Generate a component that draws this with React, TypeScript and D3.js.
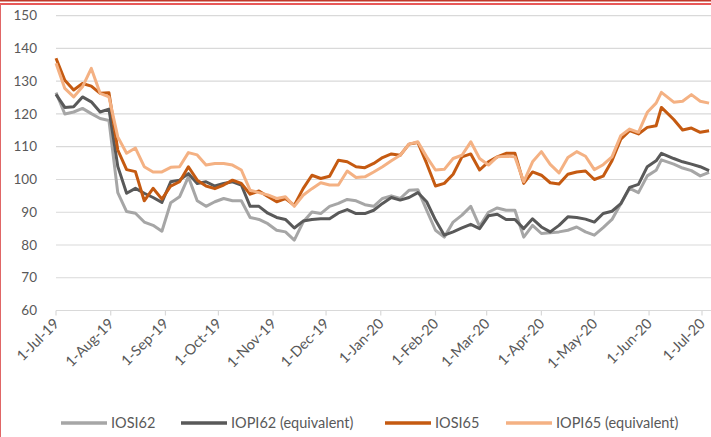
import React, {FC, useEffect, useRef} from 'react';
import * as d3 from 'd3';

// day offsets from 1-Jul-19
const dayOffsets = [
  0, 5, 10, 15, 20, 25, 30, 35, 40, 45, 50, 55, 60, 65, 70, 75, 80, 85, 90, 95,
  100, 105, 110, 115, 120, 125, 130, 135, 140, 145, 150, 155, 160, 165, 170,
  175, 180, 185, 190, 195, 200, 205, 210, 215, 220, 225, 230, 235, 240, 245,
  250, 255, 260, 265, 270, 275, 280, 285, 290, 295, 300, 305, 310, 315, 320,
  325, 330, 335, 340, 343, 350, 355, 360, 365, 370,
];

const iosi62 = [
  126.5, 120, 120.6, 121.7, 120.1, 118.6, 118, 96, 90.2, 89.7, 87, 86, 84.2,
  92.9, 94.7, 100.8, 93.5, 91.8, 93.2, 94.2, 93.5, 93.5, 88.4, 87.8, 86.5, 84.5,
  84, 81.5, 87, 90.1, 89.6, 91.8, 92.7, 93.9, 93.5, 92.3, 91.8, 94.2, 95, 94.2,
  96.7, 96.9, 90.6, 84.5, 82.4, 87, 89.1, 91.8, 85.7, 90, 91.3, 90.6, 90.6,
  82.4, 86, 83.5, 83.7, 84, 84.5, 85.5, 84, 83, 85.3, 87.8, 92.6, 97.3, 96,
  101.1, 102.8, 106, 104.7, 103.5, 102.7, 101.1, 102.2,
];

const iopi62 = [
  126, 122, 122.2, 125.2, 123.7, 120.6, 121.5, 104, 95.8, 97.3, 95.8, 94.5, 93,
  99.3, 99.8, 101.8, 98.8, 99.3, 98, 98.8, 99.3, 98.3, 91.8, 91.8, 89.7, 88.4,
  87.8, 85.2, 87.3, 87.8, 88, 88, 89.8, 90.8, 89.6, 89.6, 90.6, 92.7, 94.5,
  93.7, 94.5, 96, 93.2, 87.6, 83, 84, 85.2, 86.3, 85, 88.9, 89.4, 87.8, 87.8,
  85, 88, 85.5, 84, 86, 88.6, 88.4, 87.9, 87, 89.6, 90.3, 92.6, 97.6, 98.5,
  103.9, 105.7, 108, 106.4, 105.4, 104.7, 103.9, 102.7,
];

const iosi65 = [
  137, 130.3, 127.3, 129.3, 128.5, 126.3, 126.5, 109, 103, 102.4, 93.5, 97.3,
  94, 98, 99.3, 103.9, 99.8, 98, 97.2, 98.3, 99.8, 98.8, 95.5, 96.5, 94.8, 93.2,
  94.2, 92.1, 97.2, 101.3, 100.3, 101, 105.9, 105.4, 103.9, 103.6, 104.9, 106.7,
  107.8, 107.4, 110.8, 111.3, 104.9, 98, 98.8, 101.6, 106.9, 107.8, 102.9,
  105.4, 106.9, 108, 108, 98.8, 102.3, 101.3, 99, 98.6, 101.6, 102.3, 102.6,
  100, 101, 105.7, 112.3, 114.9, 113.9, 115.9, 116.4, 122, 118.3, 115.1, 115.7,
  114.4, 114.9,
];

const iopi65 = [
  135.5, 127.8, 125.2, 128.3, 133.9, 126.3, 125.2, 113, 108, 109.6, 103.9,
  102.3, 102.3, 103.7, 103.9, 108.2, 107.5, 104.4, 104.9, 104.9, 104.4, 102.9,
  96.7, 96, 95.3, 94.2, 94.7, 91.8, 95.2, 97.2, 99, 98.3, 98.3, 102.6, 100.6,
  100.8, 102.3, 103.9, 105.7, 107.4, 110.8, 111.5, 106.9, 102.9, 103.1, 106.4,
  107.4, 111.5, 106.4, 104.4, 106.9, 107.1, 106.9, 99.3, 105.4, 108.5, 104.6,
  102, 106.7, 108.5, 107.1, 103, 104.5, 106.9, 113.4, 115.4, 114.4, 120.5,
  123.3, 126.6, 123.6, 123.9, 125.9, 123.9, 123.3,
];

const seriesNames = ['IOSI62', 'IOPI62 (equivalent)', 'IOSI65', 'IOPI65 (equivalent)'];
const seriesColors = ['#a6a6a6', '#595959', '#c55a11', '#f4b183'];
const yTicks = [60, 70, 80, 90, 100, 110, 120, 130, 140, 150];

const W = 711;
const H = 437;
const FONT = 'Lato, "Open Sans", sans-serif';

const Chart: FC = () => {
  const ref = useRef<SVGSVGElement>(null);

  useEffect(() => {
    const svg = d3.select(ref.current);
    svg.selectAll('*').remove();

    const start = new Date(2019, 6, 1);
    const dates = dayOffsets.map(d => d3.timeDay.offset(start, d));

    const x = d3
      .scaleTime()
      .domain([start, new Date(2020, 6, 1)])
      .range([56, 702]);
    const y = d3.scaleLinear().domain([60, 150]).range([310.5, 15.7]);

    // frame
    svg.append('line').attr('x1', 0).attr('x2', W).attr('y1', 0.8).attr('y2', 0.8)
      .attr('stroke', '#c0392b').attr('stroke-width', 1.6);
    svg.append('line').attr('x1', 0).attr('x2', W).attr('y1', 4).attr('y2', 4)
      .attr('stroke', '#e02020').attr('stroke-width', 1.4);
    svg.append('line').attr('x1', 0.5).attr('x2', 0.5).attr('y1', 4).attr('y2', H)
      .attr('stroke', '#e06666').attr('stroke-width', 1);

    // gridlines
    svg
      .append('g')
      .selectAll('line')
      .data(yTicks)
      .join('line')
      .attr('x1', 56)
      .attr('x2', W + 5)
      .attr('y1', d => y(d))
      .attr('y2', d => y(d))
      .attr('stroke', '#d9d9d9')
      .attr('stroke-width', 1.2);

    // y labels
    svg
      .append('g')
      .selectAll('text')
      .data(yTicks)
      .join('text')
      .attr('x', 37)
      .attr('y', d => y(d))
      .attr('dy', '0.35em')
      .attr('text-anchor', 'end')
      .attr('fill', '#595959')
      .style('font-family', FONT)
      .style('font-size', '13.5px')
      .text(d => d);

    // x ticks + labels
    const months = d3.timeMonth.range(start, new Date(2020, 6, 2));
    svg
      .append('g')
      .selectAll('line')
      .data(months)
      .join('line')
      .attr('x1', d => x(d))
      .attr('x2', d => x(d))
      .attr('y1', y(60))
      .attr('y2', y(60) + 5)
      .attr('stroke', '#d9d9d9')
      .attr('stroke-width', 1.2);
    const fmt = d3.timeFormat('%b-%y');
    svg
      .append('g')
      .selectAll('text')
      .data(months)
      .join('text')
      .attr('transform', d => `translate(${x(d) + 4}, ${y(60) + 14}) rotate(-45)`)
      .attr('text-anchor', 'end')
      .attr('fill', '#595959')
      .style('font-family', FONT)
      .style('font-size', '14.5px')
      .text(d => `1-${fmt(d)}`);

    // lines
    const allSeries = [iosi62, iopi62, iosi65, iopi65];
    const line = d3
      .line<number>()
      .x((_, i) => x(dates[i]))
      .y(d => y(d));
    svg
      .append('g')
      .selectAll('path')
      .data(allSeries)
      .join('path')
      .attr('d', d => line(d))
      .attr('fill', 'none')
      .attr('stroke', (_, i) => seriesColors[i])
      .attr('stroke-width', 3)
      .attr('stroke-linejoin', 'round');

    // legend
    const legendX = [61, 181, 385, 506];
    const lg = svg
      .append('g')
      .selectAll('g')
      .data(seriesNames)
      .join('g')
      .attr('transform', (_, i) => `translate(${legendX[i]}, 423)`);
    lg.append('line')
      .attr('x1', 0)
      .attr('x2', 46)
      .attr('stroke', (_, i) => seriesColors[i])
      .attr('stroke-width', 3.5);
    lg.append('text')
      .attr('x', 50)
      .attr('dy', '0.35em')
      .attr('fill', '#595959')
      .style('font-family', FONT)
      .style('font-size', '14.5px')
      .text(d => d);
  }, []);

  return <svg ref={ref} width={W} height={H} style={{display: 'block'}} />;
};

const App: FC = () => (
  <div style={{position: 'absolute', left: 0, top: 0, background: '#fff'}}>
    <Chart />
  </div>
);

export default App;
